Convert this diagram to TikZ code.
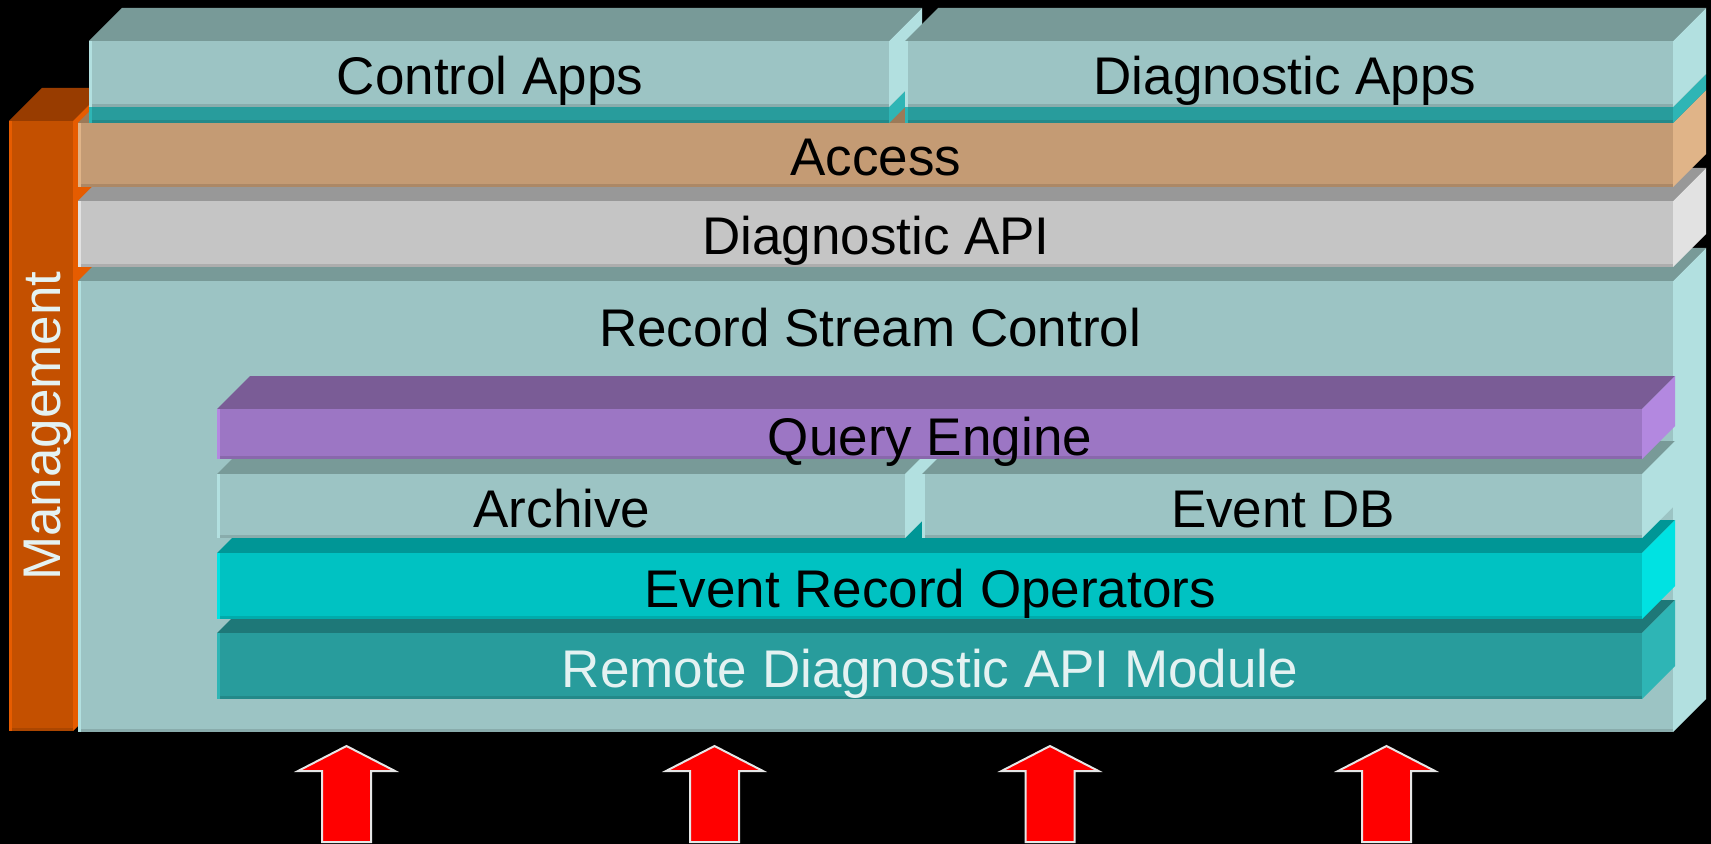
\documentclass[tikz,border=0pt]{standalone}
\usepackage{fontspec}
\setmainfont{Liberation Sans}

% face colours of the layer blocks: F = front, T = top, S = side
\definecolor{aquaF}{HTML}{9CC4C4}
\definecolor{aquaT}{HTML}{789A98}
\definecolor{aquaS}{HTML}{B2E0E0}
\definecolor{tealF}{HTML}{289C9C}
\definecolor{tealT}{HTML}{1E7878}
\definecolor{tealS}{HTML}{2EB5B5}
\definecolor{mgmtF}{HTML}{C45000}
\definecolor{mgmtT}{HTML}{983C00}
\definecolor{mgmtS}{HTML}{E65C00}
\definecolor{accF}{HTML}{C49B74}
\definecolor{accT}{HTML}{9C7A58}
\definecolor{accS}{HTML}{E0B488}
\definecolor{apiF}{HTML}{C5C5C5}
\definecolor{apiT}{HTML}{989898}
\definecolor{apiS}{HTML}{E2E2E2}
\definecolor{qryF}{HTML}{9C76C4}
\definecolor{qryT}{HTML}{7A5C96}
\definecolor{qryS}{HTML}{B388E0}
\definecolor{eroF}{HTML}{00C2C2}
\definecolor{eroT}{HTML}{009696}
\definecolor{eroS}{HTML}{00E2E2}
\definecolor{arrowred}{HTML}{FF0000}
\definecolor{arrowrim}{HTML}{E6E6E6}
\definecolor{lighttext}{HTML}{E4F2F2}

% an extruded block: front rectangle (x1,y1)-(x2,y2), depth 33 up and to the right
% #1 x1, #2 y1, #3 x2, #4 y2, #5 front, #6 top, #7 side
\newcommand\layerblock[7]{%
  \fill[#6] (#1,#2) -- ++(33,-33) -- (#3+33,#2-33) -- (#3,#2) -- cycle;
  \fill[#7] (#3,#2) -- ++(33,-33) -- (#3+33,#4-33) -- (#3,#4) -- cycle;
  \fill[#5] (#1,#2) rectangle (#3,#4);
  \fill[#5!88!black] (#1,#4-3) rectangle (#3,#4);
  \fill[#7] (#1,#2) rectangle (#1+3,#4);
}

% a block arrow pointing up, centred on x = #1
\newcommand\uparrowat[1]{%
  \draw[uparrow] (#1,746) -- (#1+48.5,771) -- (#1+24.5,771) -- (#1+24.5,842)
    -- (#1-24.5,842) -- (#1-24.5,771) -- (#1-48.5,771) -- cycle;
}

\tikzset{
  uparrow/.style={fill=arrowred, draw=arrowrim, line width=1pt, line join=miter},
  layertext/.style={anchor=base, inner sep=0pt, text=black,
    font=\fontsize{26.5}{30}\selectfont},
}

\begin{document}
\begin{tikzpicture}[x=0.5pt, y=-0.5pt]
  \fill[black] (0,0) rectangle (1711,844);
  \useasboundingbox (0,0) rectangle (1711,844);

  % management column on the left
  \layerblock{9}{121}{73}{731}{mgmtF}{mgmtT}{mgmtS}

  % record stream control with its inner stack, bottom up
  \layerblock{78}{281}{1673}{732}{aquaF}{aquaT}{aquaS}
  \layerblock{217}{633}{1642}{699}{tealF}{tealT}{tealS}
  \layerblock{217}{553}{1642}{619}{eroF}{eroT}{eroS}
  \layerblock{217}{474}{905}{538}{aquaF}{aquaT}{aquaS}
  \layerblock{922}{474}{1642}{538}{aquaF}{aquaT}{aquaS}
  \layerblock{217}{409}{1642}{459}{qryF}{qryT}{qryS}

  % upper layers
  \layerblock{78}{201}{1673}{267}{apiF}{apiT}{apiS}
  \layerblock{78}{123}{1673}{187}{accF}{accT}{accS}

  % application blocks on their teal bases
  \layerblock{89}{107}{889}{123}{tealF}{tealT}{tealS}
  \layerblock{89}{41}{889}{107}{aquaF}{aquaT}{aquaS}
  \layerblock{905}{107}{1673}{123}{tealF}{tealT}{tealS}
  \layerblock{905}{41}{1673}{107}{aquaF}{aquaT}{aquaS}

  % labels
  \node[layertext] (ctrlapps) at (490,95) {Control Apps};
  \node[layertext] (diagapps) at (1285,95) {Diagnostic Apps};
  \node[layertext] (access) at (876,176) {Access};
  \node[layertext] (diagapi) at (876,255) {Diagnostic API};
  \node[layertext] (rsc) at (870,346) {Record Stream Control};
  \node[layertext] (query) at (930,455) {Query Engine};
  \node[layertext] (archive) at (562,527) {Archive};
  \node[layertext] (eventdb) at (1283,527) {Event DB};
  \node[layertext] (ero) at (930,607) {Event Record Operators};
  \node[layertext, text=lighttext] (remote) at (930,687) {Remote Diagnostic API Module};
  \node[layertext, text=lighttext, rotate=90] (mgmt) at (60,426) {Management};

  % incoming arrows
  \uparrowat{346.5}
  \uparrowat{714.5}
  \uparrowat{1050}
  \uparrowat{1386.5}
\end{tikzpicture}
\end{document}
